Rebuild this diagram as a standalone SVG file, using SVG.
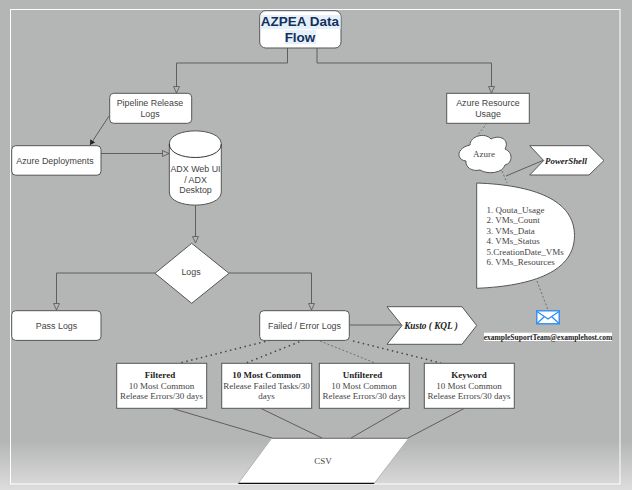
<svg xmlns="http://www.w3.org/2000/svg" width="632" height="490" viewBox="0 0 632 490">
<defs>
<linearGradient id="bg" x1="0" y1="0" x2="0" y2="1"><stop offset="0" stop-color="#b4b6b5"/><stop offset="0.9" stop-color="#b4b6b5"/><stop offset="1" stop-color="#dcdddc"/></linearGradient>
<marker id="open" markerWidth="9" markerHeight="9" refX="7" refY="3.5" orient="auto" markerUnits="userSpaceOnUse"><path d="M0.5 0.500L7 3.500L0.500 6.500Z" fill="#b4b6b5" stroke="#555" stroke-width="0.8"/></marker>
<marker id="solid" markerWidth="7" markerHeight="7" refX="5" refY="3" orient="auto" markerUnits="userSpaceOnUse"><path d="M0 0L5 3L0 6Z" fill="#222"/></marker>
</defs>
<style>
.s{fill:#fff;stroke:#555;stroke-width:1}
.c{fill:none;stroke:#5e5e5e;stroke-width:1}
.d{fill:none;stroke:#444;stroke-width:1.500;stroke-dasharray:1.500 3.500}
.h{fill:none;stroke:#666;stroke-width:.9;stroke-dasharray:2 2}
text{text-anchor:middle}
.a{font:8.900px "Liberation Sans",Arial,sans-serif;fill:#444}
.t{font:9px "Liberation Serif","Times New Roman",serif;fill:#444}
.b{font-weight:bold;fill:#222}
.l{text-anchor:start}
</style>
<rect width="632" height="490" fill="url(#bg)"/>
<rect x="10.500" y="9.500" width="609.500" height="474.500" fill="none" stroke="#fff" stroke-width="1"/>
<g id="connectors">
<path class="c" d="M287.500 48V63H176.500V93" marker-end="url(#open)"/>
<path class="c" d="M317 48V63H491.500V93" marker-end="url(#open)"/>
<path class="c" d="M109 116L90 145" marker-end="url(#solid)"/>
<path class="c" d="M101 153.500H169" marker-end="url(#open)"/>
<path class="c" d="M195.500 205V243" marker-end="url(#open)"/>
<path class="c" d="M155 273H56.500V310" marker-end="url(#open)"/>
<path class="c" d="M229 273H311.500V310" marker-end="url(#open)"/>
<path class="c" d="M349 325H402"/>
<path class="d" d="M275 339L180 363"/>
<path class="d" d="M304 340L246 363"/>
<path class="h" d="M320 341L375 363"/>
<path class="d" d="M353 341L441 363"/>
<path class="c" d="M171 408L272 438"/>
<path class="c" d="M260 408L322 438"/>
<path class="c" d="M403 408L351 438"/>
<path class="c" d="M465 408L408 438"/>
<path class="h" d="M487 123L477 136"/>
<path class="h" d="M502 171L507 183"/>
<path class="c" d="M506 176L544 160"/>
<path class="h" d="M537 281L548 310"/>
</g>
<g id="title"><rect class="s" x="259.700" y="10.700" width="81.300" height="37.300" rx="6"/>
<rect x="260.500" y="15" width="80" height="14" fill="#e6f0fa"/><rect x="285" y="30" width="31" height="14" fill="#e6f0fa"/>
<text x="300" y="26" font-family="Liberation Sans,Arial,sans-serif" font-size="13.500" font-weight="bold" fill="#14305a">AZPEA Data</text>
<text x="300" y="42" font-family="Liberation Sans,Arial,sans-serif" font-size="13.500" font-weight="bold" fill="#14305a">Flow</text></g>
<g id="pipeline"><rect class="s" x="109.700" y="93.300" width="82" height="30" rx="4"/><text class="a" x="150" y="106">Pipeline Release</text><text class="a" x="150" y="116.500">Logs</text></g>
<g id="deployments"><rect class="s" x="11.700" y="145.700" width="89.300" height="29.500" rx="4"/><text class="a" x="55" y="164">Azure Deployments</text></g>
<g id="adx"><path class="s" d="M169.300 144C169.300 126.500 221.300 126.500 221.300 144V192C221.300 209.500 169.300 209.500 169.300 192Z"/><path class="c" style="stroke:#333" d="M169.300 144C169.300 162 221.300 162 221.300 144"/><text class="a" x="195.500" y="172">ADX Web UI</text><text class="a" x="195.500" y="182.500">/ ADX</text><text class="a" x="195.500" y="193">Desktop</text></g>
<g id="logs"><path class="s" d="M191.700 243.300L229 273.300L191.700 303.300L155 273.300Z"/><text class="a" x="191" y="275">Logs</text></g>
<g id="pass"><rect class="s" x="11.700" y="310.700" width="89.300" height="29.700" rx="4"/><text class="a" x="56.500" y="329">Pass Logs</text></g>
<g id="failed"><rect class="s" x="259.700" y="310.700" width="89.600" height="29.700" rx="4"/><text class="a" x="304.500" y="329">Failed / Error Logs</text></g>
<g id="kusto"><path class="s" d="M387 306.700H462L476.700 325.500L462 344.300H387L402 325.500Z"/><text x="431" y="329" font-family="Liberation Serif,serif" font-size="9.300" font-style="italic" font-weight="bold" fill="#222">Kusto ( KQL )</text></g>
<g id="filtered"><rect class="s" x="116.700" y="363.300" width="90" height="45"/><text class="t b" x="160" y="378">Filtered</text><text class="t" x="161.500" y="389">10 Most Common</text><text class="t" x="161.500" y="399">Release Errors/30 days</text></g>
<g id="common"><rect class="s" x="221.700" y="363.300" width="90" height="45"/><text class="t b" x="266.500" y="378">10 Most Common</text><text class="t" x="266.500" y="389">Release Failed Tasks/30</text><text class="t" x="266.500" y="399">days</text></g>
<g id="unfiltered"><rect class="s" x="319.300" y="363.300" width="90" height="45"/><text class="t b" x="362.500" y="378">Unfiltered</text><text class="t" x="364" y="389">10 Most Common</text><text class="t" x="364" y="399">Release Errors/30 days</text></g>
<g id="keyword"><rect class="s" x="424.300" y="363.300" width="90" height="45"/><text class="t b" x="469" y="378">Keyword</text><text class="t" x="469" y="389">10 Most Common</text><text class="t" x="469" y="399">Release Errors/30 days</text></g>
<g id="csv"><path d="M271.700 438.300H408.700L374.300 483.300H238.300Z" fill="#fff"/><path d="M238.300 483.300H374.300" stroke="#111" stroke-width="1.200"/><path d="M271.700 438.300H408.700" stroke="#444" stroke-width=".8"/><path d="M238.300 483.300L271.700 438.300M408.700 438.300L374.300 483.300" stroke="#aaa" stroke-width=".8"/><text class="t" x="323" y="464">CSV</text></g>
<g id="resource"><rect class="s" x="446.700" y="93.300" width="82.600" height="30"/><text class="a" x="488" y="106">Azure Resource</text><text class="a" x="488" y="116.500">Usage</text></g>
<g id="azure"><path class="s" d="M470 145C470 136 485 132 491 139C500 134 510 140 505 149C513 152 513 163 505 165C503 173 488 175 480 170C472 172 465 167 466 161C456 160 456 148 470 145Z"/><text class="t" x="484" y="157">Azure</text></g>
<g id="powershell"><path class="s" d="M529.700 145.700H589L604 160.500L589 175H529.700L543.700 160.500Z"/><text x="566" y="164" font-family="Liberation Serif,serif" font-size="8.900" font-style="italic" font-weight="bold" fill="#222">PowerShell</text></g>
<g id="metrics"><path class="s" d="M476.700 183C534 185 574.500 200 574.500 235.500C574.500 271 534 286 476.700 288.300Z"/>
<text class="t l" x="486.500" y="212.700">1. Qouta_Usage</text><text class="t l" x="486.500" y="223">2. VMs_Count</text><text class="t l" x="486.500" y="233.500">3. VMs_Data</text><text class="t l" x="486.500" y="244">4. VMs_Status</text><text class="t l" x="486.500" y="254.700">5.CreationDate_VMs</text><text class="t l" x="486.500" y="265">6. VMs_Resources</text></g>
<g id="email"><rect x="536.800" y="310.800" width="22.400" height="13" fill="#fff" stroke="#2f8cf5" stroke-width="1.400"/><path d="M537 311.500L548 319L559 311.500M537 323.500L544.500 316.500M559 323.500L551.500 316.500" fill="none" stroke="#2f8cf5" stroke-width="1.300"/>
<rect x="484" y="332.700" width="128" height="8.300" fill="#fff"/><text x="548" y="339.800" font-family="Liberation Serif,serif" font-size="7.500" font-weight="bold" fill="#222">exampleSuportTeam@examplehost.com</text></g>
</svg>
